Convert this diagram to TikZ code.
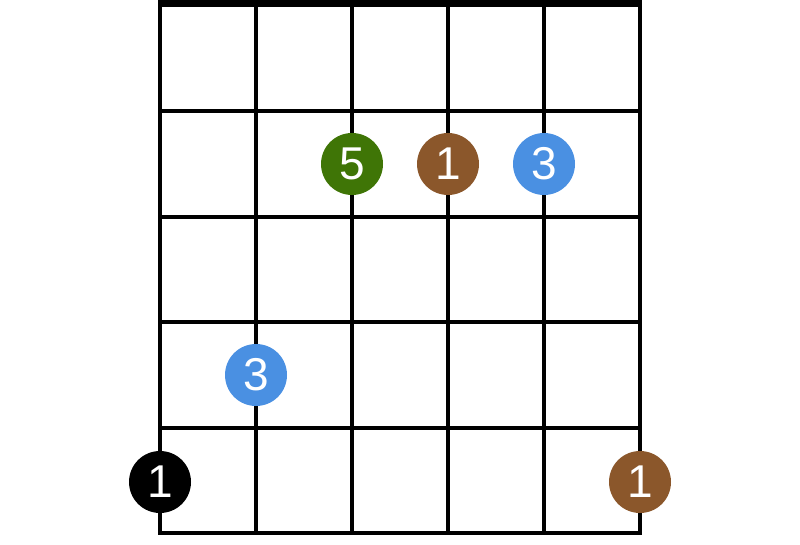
\documentclass[tikz,border=0pt]{standalone}
\usepackage{fontspec}
\setmainfont{Liberation Sans}
\usepackage{tikz}
\usetikzlibrary{positioning}
\usepackage{xcolor}
\definecolor{rootbrown} {RGB}{139,  87,  43}
\definecolor{thirdblue} {RGB}{ 74, 144, 226}
\definecolor{fifthgreen}{RGB}{ 63, 117,   6}
\definecolor{bassblack} {RGB}{  0,   0,   0}
\tikzset{
  fretline/.style={line width=4pt, line cap=rect},
  nutline/.style={line width=7pt},
  dot/.style={
    circle, fill=#1, draw=none, minimum size=62pt, inner sep=0pt,
    text=white, font=\fontsize{46}{46}\selectfont
  },
}

\begin{document}
\begin{tikzpicture}[x=1pt, y=-1pt]
\useasboundingbox (0,0) rectangle (800,545);

% ── Nut and frets ─────────────────────────────────────────────────────────────
\draw[nutline] (158,3.5) -- (642,3.5);
\foreach \f in {1,...,5}
  \draw[fretline] (160,6+105.4*\f) -- (640,6+105.4*\f);

% ── Strings ───────────────────────────────────────────────────────────────────
\foreach \s in {0,...,5}
  \draw[fretline] (160+96*\s,6) -- (160+96*\s,533);

% ── Finger dots ───────────────────────────────────────────────────────────────
\node[dot=fifthgreen] (fifth)  at (352,164) {5};
\node[dot=rootbrown]  (rootB)  at (448,164) {1};
\node[dot=thirdblue]  (thirdG) at (544,164) {3};
\node[dot=thirdblue]  (thirdA) at (256,375) {3};
\node[dot=bassblack]  (rootE)  at (160,482) {1};
\node[dot=rootbrown]  (rootE2) at (640,482) {1};

\end{tikzpicture}
\end{document}
